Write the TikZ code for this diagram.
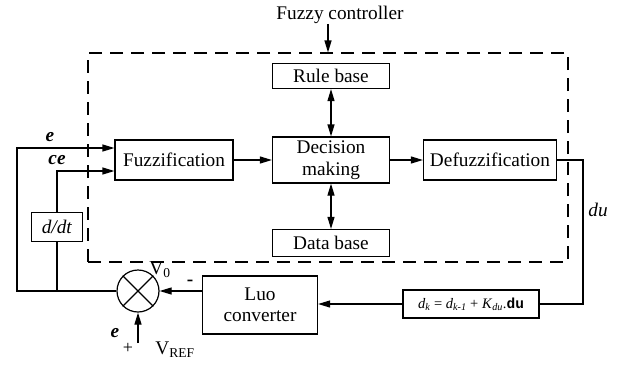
\documentclass[tikz,border=0pt]{standalone}
\usepackage{fontspec}
\setmainfont{Liberation Serif}
\setmonofont{Liberation Mono}
\usetikzlibrary{arrows.meta, positioning, calc}

\begin{document}
\begin{tikzpicture}[
    x=1pt, y=-1pt,
    font=\rmfamily\fontsize{19.3}{21.5}\selectfont,
    block/.style={draw, line width=1.2pt, align=center, inner sep=0pt, minimum width=#1},
    block/.default=117,
    wire/.style={line width=1.2pt},
    arr/.style={wire, -{Triangle[length=12pt, width=7pt]}},
    dbl/.style={wire, {Triangle[length=12pt, width=7pt]}-{Triangle[length=12pt, width=7pt]}},
    lbl/.style={inner sep=0pt}
]
    \useasboundingbox (0,0) rectangle (620,367);

    % Fuzzy controller frame
    \node[draw, dash pattern=on 13pt off 8pt, line width=1.1pt, minimum width=480, minimum height=209, inner sep=0pt] (ctrl) at (328,157.5) {};
    \node[lbl] (title) at (340,15) {Fuzzy controller};

    % Blocks inside the controller
    \node[block, minimum height=25] (rule) at (331,76) {Rule base};
    \node[block, minimum height=46] (dec) at (331,160) {Decision\\making};
    \node[block, minimum height=27] (data) at (331,243) {Data base};
    \node[block=118, minimum height=40] (fuzz) at (174,160) {Fuzzification};
    \node[block=133, minimum height=40] (defuzz) at (490,160) {Defuzzification};

    % Blocks outside
    \node[block=51, minimum height=29] (ddt) at (57,227) {\textit{d/dt}};
    \node[block=115, minimum height=58] (luo) at (260,305) {Luo\\converter};
    \node[block=136, minimum height=28, font=\rmfamily\fontsize{14.5}{16}\selectfont] (law) at (471,304)
        {\textit{d}\textsubscript{\textit{k}} = \textit{d}\textsubscript{\textit{k-1}} + \textit{K}\textsubscript{\textit{du}}.\texttt{\textbf{du}}};
    \node[circle, draw, line width=1.2pt, minimum size=42, inner sep=0pt] (sum) at (138,291) {};
    \draw[wire] (sum.north west) -- (sum.south east);
    \draw[wire] (sum.north east) -- (sum.south west);

    % Turning points
    \coordinate (eturn) at (17,291);
    \coordinate (ceturn) at (57,291);
    \coordinate (duturn) at (583,160);
    \coordinate (ref) at (138,343);

    % Connectors
    \draw[arr] (title.south -| ctrl.north) -- (ctrl.north);
    \draw[arr] (fuzz) -- (dec);
    \draw[arr] (dec) -- (defuzz);
    \draw[dbl] (dec.north) -- (rule.south);
    \draw[dbl] (dec.south) -- (data.north);
    \draw[arr] (sum.west) -- (eturn) |- ([yshift=12pt]fuzz.west);
    \draw[wire] (ceturn) -- (ddt.south);
    \draw[arr] (ddt.north) |- ([yshift=-11pt]fuzz.west);
    \draw[wire] (defuzz.east) -- (duturn) |- (law.east);
    \draw[arr] (law.west) -- (law.west -| luo.east);
    \draw[arr] (luo.west |- sum.east) -- (sum.east);
    \draw[arr] (ref) -- (sum.south);

    % Labels
    \node[lbl] (elbl) at (50,137) {\textbf{\textit{e}}};
    \node[lbl] (celbl) at (57,160) {\textbf{\textit{ce}}};
    \node[lbl] (vo) at (160,270) {V\textsubscript{0}};
    \node[lbl] (minus) at (190,283) {\textbf{-}};
    \node[lbl] (eref) at (115,333) {\textbf{\textit{e}}};
    \node[lbl, font=\rmfamily\fontsize{18}{20}\selectfont] (plus) at (128,348) {+};
    \node[lbl] (vref) at (175,350) {V\textsubscript{REF}};
    \node[lbl] (dulbl) at (598,210) {\textit{du}};
\end{tikzpicture}
\end{document}
